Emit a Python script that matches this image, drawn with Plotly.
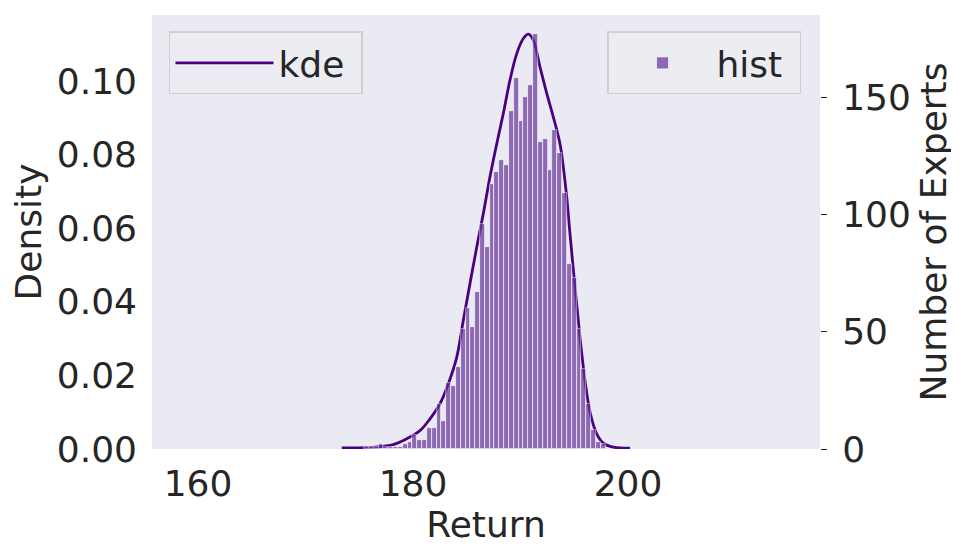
import numpy as np
import plotly.graph_objects as go

# histogram of expert returns (counts per bin)
bin_start = 175.457
bin_width = 0.449
counts = [1, 1, 1, 2, 1, 1, 1,
          1, 2, 3, 6, 4, 4, 9, 9, 19, 12,
          28, 27, 35, 51, 60, 52, 67, 96, 86, 113,
          118, 123, 121, 144, 158, 140, 150, 155, 177, 131,
          132, 119, 136, 126, 109, 79, 73, 51, 34, 19,
          8, 3, 2]

# kde curve (density)
kde_x = [173.37, 177.86, 179.41, 180.65, 181.58, 182.51, 183.28, 184.07,
         184.68, 185.30, 185.93, 186.54, 187.16, 187.79, 188.40, 189.02,
         189.65, 190.26, 190.73, 191.19, 191.81, 192.44, 193.05, 193.67,
         193.98, 194.30, 194.60, 195.07, 195.53, 196.00, 196.47, 197.09,
         197.70, 198.63, 200.19]
kde_y = [0.0003, 0.0010, 0.0028, 0.0050, 0.0082, 0.0123, 0.0177, 0.0250,
         0.0350, 0.0450, 0.0549, 0.0640, 0.0740, 0.0830, 0.0912, 0.1003,
         0.1075, 0.1116, 0.1128, 0.1112, 0.1039, 0.0967, 0.0903, 0.0830,
         0.0767, 0.0685, 0.0586, 0.0440, 0.0304, 0.0186, 0.0100, 0.0041,
         0.0016, 0.0005, 0.0002]

density_ticks = [0.0, 0.02, 0.04, 0.06, 0.08, 0.10]
count_ticks = [0, 50, 100, 150]
return_ticks = [160, 180, 200]

centers = bin_start + bin_width * (np.arange(len(counts)) + 0.5)

txt = '#262626'
font = dict(family='DejaVu Sans', size=36, color=txt)

fig = go.Figure()
fig.add_trace(go.Scatter(x=kde_x, y=kde_y, mode='lines', name='kde&nbsp;',
                         line=dict(color='#4B0082', width=2.8, shape='spline'),
                         yaxis='y', legend='legend', showlegend=True))
fig.add_trace(go.Bar(x=centers, y=counts, width=bin_width, name='hist&nbsp;',
                     marker=dict(color='#663399', line=dict(color='white', width=0.7)),
                     opacity=0.7, yaxis='y2', legend='legend2', showlegend=True))

legend_style = dict(bgcolor='rgba(236,236,243,0.9)', bordercolor='#cfcfcf', borderwidth=1.5,
                    font=font, yanchor='top', y=0.962, itemwidth=98)

# page body adds an 8px offset, so the figure is 8px smaller and shifted margins
fig.update_layout(
    width=951, height=545,
    margin=dict(l=144, r=139, t=7, b=104, autoexpand=False),
    paper_bgcolor='white', plot_bgcolor='#EAEAF2',
    font=font,
    bargap=0,
    showlegend=True,
    xaxis=dict(range=[155.72, 217.86], tickvals=return_ticks, showgrid=False,
               zeroline=False, showline=False, ticklabelstandoff=10,
               title=dict(text='Return', standoff=4, font=font)),
    yaxis=dict(range=[0, 0.118], tickvals=density_ticks, tickformat='.2f',
               showgrid=False, zeroline=False, showline=False, ticklabelstandoff=14,
               title=dict(text='Density', standoff=8, font=font)),
    yaxis2=dict(range=[0, 185.0], tickvals=count_ticks, overlaying='y', side='right',
                showgrid=False, zeroline=False, showline=False,
                ticks='outside', ticklen=6, tickwidth=1.3, tickcolor=txt,
                ticklabelstandoff=8,
                title=dict(text='Number of Experts', standoff=10, font=font)),
    legend=dict(x=0.0254, xanchor='left', **legend_style),
    legend2=dict(x=0.9716, xanchor='right', **legend_style),
)

fig.write_html("out.html")
